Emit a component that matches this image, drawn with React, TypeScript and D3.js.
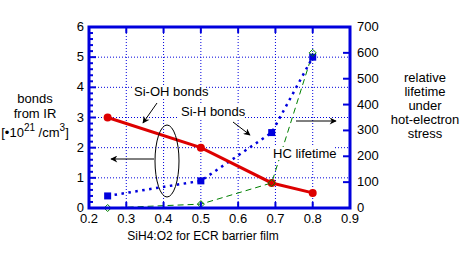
import React from "react";
import * as d3 from "d3";

const xs = [0.25, 0.5, 0.69, 0.8];
const siOH = [3.0, 2.0, 0.83, 0.5];
const siH = [0.4, 0.9, 2.5, 5.0];
const hcLifetime = [0, 15, 97, 600];
const xTicks = [0.2, 0.3, 0.4, 0.5, 0.6, 0.7, 0.8, 0.9];
const yLeftTicks = [0, 1, 2, 3, 4, 5, 6];
const yRightTicks = [0, 100, 200, 300, 400, 500, 600, 700];
const leftTitle = ["bonds", "from IR"];
const rightTitle = ["relative", "lifetime", "under", "hot-electron", "stress"];

const W = 468, H = 254;
const L = 89, R = 350, T = 27, B = 208;
const BLUE = "#0000dd", RED = "#dd0000", GREEN = "#008000";
const FONT = "'Liberation Sans', Arial, sans-serif";

export default function App() {
  const x = d3.scaleLinear().domain([0.2, 0.9]).range([L, R]);
  const yL = d3.scaleLinear().domain([0, 6]).range([B, T]);
  const yR = d3.scaleLinear().domain([0, 700]).range([B, T]);
  const line = d3.line<[number, number]>().x(d => d[0]).y(d => d[1]);
  const redPts: [number, number][] = xs.map((v, i) => [x(v), yL(siOH[i])]);
  const bluePts: [number, number][] = xs.map((v, i) => [x(v), yL(siH[i])]);
  const greenPts: [number, number][] = xs.map((v, i) => [x(v), yR(hcLifetime[i])]);
  const minorLeft = d3.range(0, 6.001, 0.2).filter(v => Math.abs(v - Math.round(v)) > 0.01);

  const label = (t: string, x0: number, yb: number, w: number) => (
    <g>
      <rect x={x0 - 2} y={yb - 11} width={w + 4} height={13} fill="#fff" />
      <text x={x0} y={yb} fontSize={13}>{t}</text>
    </g>
  );

  return (
    <svg width={W} height={H} style={{ position: "absolute", left: 0, top: 0 }} fontFamily={FONT}>
      <defs>
        <marker id="ah" viewBox="0 0 10 10" refX="9" refY="5" markerWidth="9" markerHeight="7" orient="auto" markerUnits="userSpaceOnUse">
          <path d="M0,0 L10,5 L0,10 L3,5 z" fill="#000" />
        </marker>
      </defs>
      <rect width={W} height={H} fill="#fff" />
      {/* grid */}
      {xTicks.slice(1, -1).map(v => (
        <line key={"gx" + v} x1={x(v)} x2={x(v)} y1={T} y2={B} stroke={BLUE} strokeWidth={1} strokeDasharray="1,2" />
      ))}
      {yLeftTicks.slice(1, -1).map(v => (
        <line key={"gy" + v} x1={L} x2={R} y1={yL(v)} y2={yL(v)} stroke={BLUE} strokeWidth={1} strokeDasharray="1,2" />
      ))}
      {/* series */}
      <path d={line(greenPts) || ""} fill="none" stroke={GREEN} strokeWidth={1} strokeDasharray="6,4" />
      <path d={line(bluePts) || ""} fill="none" stroke={BLUE} strokeWidth={2.5} strokeDasharray="2.5,4.5" />
      <path d={line(redPts) || ""} fill="none" stroke={RED} strokeWidth={3} />
      {/* labels */}
      {label("Si-OH bonds", 134, 96, 70)}
      {label("Si-H bonds", 181, 116, 60)}
      {label("HC lifetime", 273, 158, 59)}
      {/* markers */}
      {redPts.map((p, i) => <circle key={"r" + i} cx={p[0]} cy={p[1]} r={4} fill={RED} />)}
      {bluePts.map((p, i) => <rect key={"b" + i} x={p[0] - 3.5} y={p[1] - 3.5} width={7} height={7} fill={BLUE} />)}
      {greenPts.map((p, i) => (
        <path key={"g" + i} d={`M${p[0]},${p[1] - 3.5} L${p[0] + 3.5},${p[1]} L${p[0]},${p[1] + 3.5} L${p[0] - 3.5},${p[1]} Z`} fill="none" stroke={GREEN} strokeWidth={1} />
      ))}
      {/* annotations */}
      <line x1={157} y1={103} x2={143} y2={123} stroke="#000" strokeWidth={1} markerEnd="url(#ah)" />
      <line x1={233} y1={122} x2={250} y2={135} stroke="#000" strokeWidth={1} markerEnd="url(#ah)" />
      <line x1={154} y1={159} x2={111} y2={159} stroke="#000" strokeWidth={1} markerEnd="url(#ah)" />
      <line x1={296} y1={121} x2={336} y2={121} stroke="#000" strokeWidth={1} markerEnd="url(#ah)" />
      <ellipse cx={167} cy={161} rx={12} ry={36} fill="none" stroke="#000" strokeWidth={1} />
      {/* axes frame */}
      <rect x={L} y={T} width={R - L} height={B - T} fill="none" stroke={BLUE} strokeWidth={3} />
      {xTicks.slice(1, -1).map(v => (
        <g key={"xt" + v}>
          <line x1={x(v)} x2={x(v)} y1={B} y2={B - 6} stroke={BLUE} strokeWidth={2} />
          <line x1={x(v)} x2={x(v)} y1={T} y2={T + 6} stroke={BLUE} strokeWidth={2} />
        </g>
      ))}
      {yLeftTicks.slice(1, -1).map(v => (
        <line key={"ylt" + v} x1={L} x2={L + 7} y1={yL(v)} y2={yL(v)} stroke={BLUE} strokeWidth={2} />
      ))}
      {minorLeft.map(v => (
        <line key={"ylm" + v} x1={L} x2={L + 4} y1={yL(v)} y2={yL(v)} stroke={BLUE} strokeWidth={2} />
      ))}
      {yRightTicks.slice(1, -1).map(v => (
        <line key={"yrt" + v} x1={R} x2={R - 7} y1={yR(v)} y2={yR(v)} stroke={BLUE} strokeWidth={2} />
      ))}
      {/* tick labels */}
      {xTicks.map(v => (
        <text key={"xl" + v} x={x(v)} y={223} fontSize={13} textAnchor="middle">{v.toFixed(1)}</text>
      ))}
      {yLeftTicks.map(v => (
        <text key={"yll" + v} x={84} y={yL(v) + 4} fontSize={13} textAnchor="end">{v}</text>
      ))}
      {yRightTicks.map(v => (
        <text key={"yrl" + v} x={357} y={yR(v) + 4} fontSize={13}>{v}</text>
      ))}
      {/* titles */}
      <text x={203} y={240} fontSize={12} textAnchor="middle">SiH4:O2 for ECR barrier film</text>
      {leftTitle.map((t, i) => (
        <text key={"lt" + i} x={35} y={103 + i * 15} fontSize={13} textAnchor="middle">{t}</text>
      ))}
      <text x={35} y={137} fontSize={13} textAnchor="middle">
        [•10<tspan dy={-6} fontSize={10}>21</tspan><tspan dy={6}> /cm</tspan><tspan dy={-6} fontSize={10}>3</tspan><tspan dy={6}>]</tspan>
      </text>
      {rightTitle.map((t, i) => (
        <text key={"rt" + i} x={425} y={82 + i * 14} fontSize={13} textAnchor="middle">{t}</text>
      ))}
    </svg>
  );
}
